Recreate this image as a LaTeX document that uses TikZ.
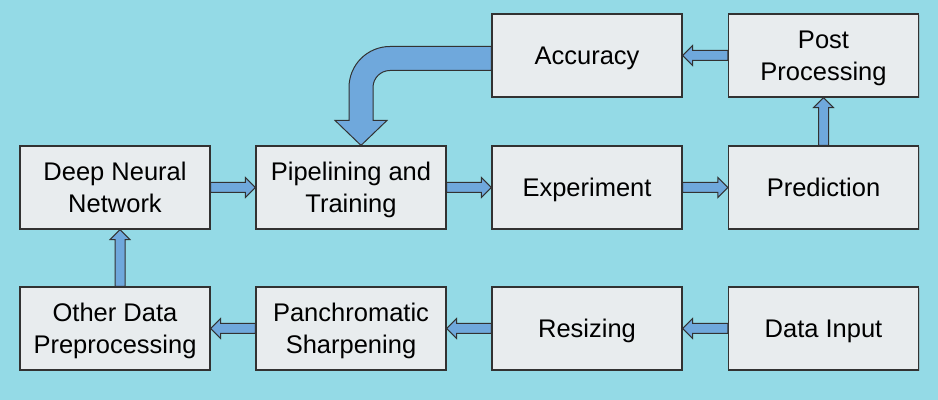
\documentclass[tikz,border=0pt]{standalone}
\usepackage{fontspec}
\setmainfont{Liberation Sans}
\usetikzlibrary{calc,shadows}

\definecolor{skyback}{RGB}{148,218,230}
\definecolor{boxgrey}{RGB}{232,236,238}
\definecolor{boxedge}{RGB}{50,50,50}
\definecolor{arrowblue}{RGB}{111,168,220}

\tikzset{
  stage/.style={rectangle, draw=boxedge, fill=boxgrey, line width=0.6pt,
    minimum width=95pt, minimum height=41.5pt, align=center, inner sep=0pt,
    text depth=0pt, font=\fontsize{12.75}{15.9}\selectfont,
    drop shadow={shadow xshift=0.6pt, shadow yshift=-0.6pt, opacity=0.3}},
  blockarrow/.style={fill=arrowblue, draw=boxedge, line width=0.5pt}
}

% block arrow from #1 to #2 (tip at #2)
\newcommand{\fatarrow}[2]{%
  \coordinate (fa-s) at (#1);
  \coordinate (fa-t) at (#2);
  \coordinate (fa-b) at ($(fa-t)!5pt!(fa-s)$);
  \draw[blockarrow] ($(fa-s)!2.5pt!90:(fa-t)$) -- ($(fa-b)!2.5pt!-90:(fa-s)$)
    -- ($(fa-b)!5pt!-90:(fa-s)$) -- (fa-t) -- ($(fa-b)!5pt!90:(fa-s)$)
    -- ($(fa-b)!2.5pt!90:(fa-s)$) -- ($(fa-s)!2.5pt!-90:(fa-t)$) -- cycle;
}

\begin{document}
\begin{tikzpicture}[x=0.5pt,y=-0.5pt]
    % Background
    \fill[skyback] (0,0) rectangle (938,400);
    \useasboundingbox (0,0) rectangle (938,400);

    % Top row
    \node[stage] (acc) at (587,55.5) {Accuracy};
    \node[stage] (post) at (823.5,55.5) {Post\\Processing};

    % Middle row
    \node[stage] (dnn) at (115,187.5) {Deep Neural\\Network};
    \node[stage] (pipe) at (351,187.5) {Pipelining and\\Training};
    \node[stage] (expt) at (587,187.5) {Experiment};
    \node[stage] (pred) at (823.5,187.5) {Prediction};

    % Bottom row
    \node[stage] (other) at (115,328.5) {Other Data\\Preprocessing};
    \node[stage] (pansharp) at (351,328.5) {Panchromatic\\Sharpening};
    \node[stage] (resize) at (587,328.5) {Resizing};
    \node[stage] (input) at (823.5,328.5) {Data Input};

    % Data preparation
    \fatarrow{input.west}{resize.east}
    \fatarrow{resize.west}{pansharp.east}
    \fatarrow{pansharp.west}{other.east}
    \fatarrow{$(other.north)+(5,0)$}{$(dnn.south)+(5,0)$}

    % Training and prediction
    \fatarrow{dnn.east}{pipe.west}
    \fatarrow{pipe.east}{expt.west}
    \fatarrow{expt.east}{pred.west}
    \fatarrow{pred.north}{post.south}
    \fatarrow{post.west}{acc.east}

    % Accuracy fed back into training
    \coordinate (fb-c) at ($(pipe.north |- acc.west)+(10,3)$);
    \coordinate (fb-h) at ($(pipe.north)+(10,-25)$);
    \draw[blockarrow] ($(acc.west)+(0,-9)$) -- ($(fb-c)+(29,-12)$) arc (-90:-180:41)
        -- ($(fb-h)+(-12,0)$) -- ($(fb-h)+(-26,0)$) -- ($(pipe.north)+(10,0)$)
        -- ($(fb-h)+(26,0)$) -- ($(fb-h)+(12,0)$) -- ($(fb-c)+(12,29)$) arc (180:270:17)
        -- ($(acc.west)+(0,15)$) -- cycle;
\end{tikzpicture}
\end{document}
